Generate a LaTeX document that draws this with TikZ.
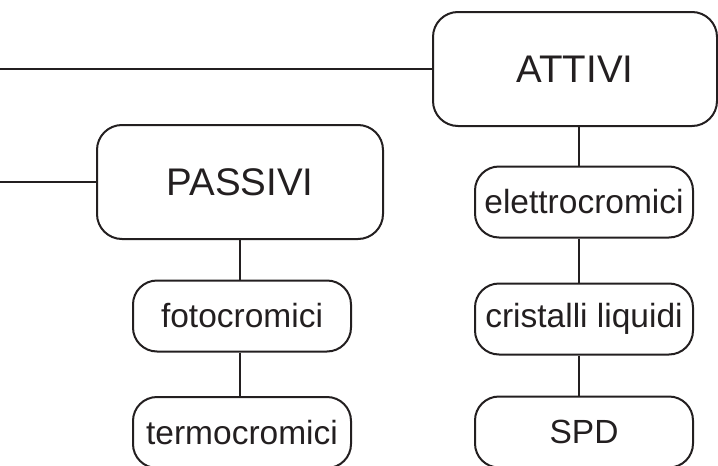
\documentclass[tikz,border=0pt]{standalone}
\usepackage{fontspec}
\setmainfont{Liberation Sans}
\definecolor{ink}{HTML}{231F20}
\begin{document}
\begin{tikzpicture}[x=1pt,y=-1pt,
  bigbox/.style={draw=ink, line width=2pt, rounded corners=25pt, minimum width=284pt, minimum height=114pt, inner sep=0pt, font=\fontsize{38.5}{40}\selectfont, text=ink},
  smallbox/.style={draw=ink, line width=2pt, rounded corners=24pt, minimum width=218pt, minimum height=71pt, inner sep=0pt, font=\fontsize{33.5}{35}\selectfont, text=ink},
  link/.style={draw=ink, line width=2pt}]
\useasboundingbox (0,0) rectangle (718,466);
\clip (0,0) rectangle (718,466);
\node[bigbox] (attivi) at (575,69) {ATTIVI};
\node[bigbox, minimum width=286pt] (passivi) at (240,182) {PASSIVI};
\node[smallbox] (elettro) at (584,202) {elettrocromici};
\node[smallbox] (cristalli) at (584,319) {cristalli liquidi};
\node[smallbox] (spd) at (584,432) {SPD};
\node[smallbox] (foto) at (242,316) {fotocromici};
\node[smallbox] (termo) at (242,432.5) {termocromici};
\coordinate (la) at (0,69);
\coordinate (lp) at (0,182);
\coordinate (ca) at (579,0);
\coordinate (cp) at (240,0);
\draw[link] (la) -- (attivi.west);
\draw[link] (lp) -- (passivi.west);
\draw[link] (attivi.south -| ca) -- (elettro.north -| ca);
\draw[link] (elettro.south -| ca) -- (cristalli.north -| ca);
\draw[link] (cristalli.south -| ca) -- (spd.north -| ca);
\draw[link] (passivi.south -| cp) -- (foto.north -| cp);
\draw[link] (foto.south -| cp) -- (termo.north -| cp);
\end{tikzpicture}
\end{document}
